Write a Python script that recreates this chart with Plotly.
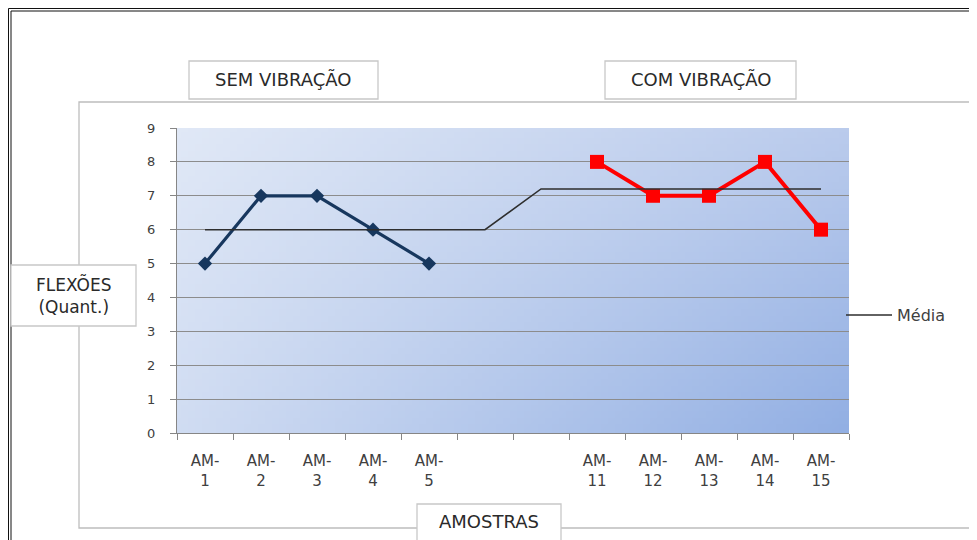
import base64
import struct
import zlib

import plotly.graph_objects as go

# ---------------- data ----------------
categories = ["AM-1", "AM-2", "AM-3", "AM-4", "AM-5", "", "",
              "AM-11", "AM-12", "AM-13", "AM-14", "AM-15"]
sem_categories = ["AM-1", "AM-2", "AM-3", "AM-4", "AM-5"]
sem_vibracao = [5, 7, 7, 6, 5]
com_categories = ["AM-11", "AM-12", "AM-13", "AM-14", "AM-15"]
com_vibracao = [8, 7, 7, 8, 6]
media = [6, 6, 6, 6, 6, 6, 7.2, 7.2, 7.2, 7.2, 7.2, 7.2]
y_ticks = [0, 1, 2, 3, 4, 5, 6, 7, 8, 9]

# ---------------- geometry helpers ----------------
W, H = 977, 540
OFF = 8  # the page body adds an 8px margin around the figure
PL, PR, PT, PB = 177, 849, 128, 433  # plot area in screen pixels


def xp(px):
    return (px - PL) / (PR - PL)


def yp(py):
    return (PB - py) / (PB - PT)


# ---------------- gradient background (PNG built in memory) ----------------
def gradient_png(w, h, tl, tr, bl, br):
    rows = []
    for j in range(h):
        v = j / (h - 1)
        row = bytearray([0])
        for i in range(w):
            u = i / (w - 1)
            for c in range(3):
                top = tl[c] * (1 - u) + tr[c] * u
                bot = bl[c] * (1 - u) + br[c] * u
                row.append(int(round(top * (1 - v) + bot * v)))
        rows.append(bytes(row))
    raw = b"".join(rows)

    def chunk(tag, data):
        return (struct.pack(">I", len(data)) + tag + data +
                struct.pack(">I", zlib.crc32(tag + data) & 0xFFFFFFFF))

    png = b"\x89PNG\r\n\x1a\n"
    png += chunk(b"IHDR", struct.pack(">IIBBBBB", w, h, 8, 2, 0, 0, 0))
    png += chunk(b"IDAT", zlib.compress(raw, 9))
    png += chunk(b"IEND", b"")
    return "data:image/png;base64," + base64.b64encode(png).decode()


bg_img = gradient_png(96, 48,
                      (224, 232, 246), (186, 203, 236),
                      (208, 220, 242), (146, 175, 227))

FONT = "DejaVu Sans"
x_pos = list(range(len(categories)))
idx = {c: i for i, c in enumerate(categories) if c}
tick_text = [c.replace("-", "-<br>") if c else "" for c in categories]

fig = go.Figure()

fig.add_trace(go.Scatter(
    x=[idx[c] for c in sem_categories], y=sem_vibracao, mode="lines+markers",
    name="SEM VIBRAÇÃO", showlegend=False,
    line=dict(color="#17375e", width=3.2),
    marker=dict(symbol="diamond", size=11, color="#17375e"),
))
fig.add_trace(go.Scatter(
    x=[idx[c] for c in com_categories], y=com_vibracao, mode="lines+markers",
    name="COM VIBRAÇÃO", showlegend=False,
    line=dict(color="#ff0000", width=4),
    marker=dict(symbol="square", size=14, color="#ff0000"),
))
fig.add_trace(go.Scatter(
    x=x_pos, y=media, mode="lines", name="Média",
    line=dict(color="#2e2e2e", width=1.5),
))

shapes = []
# outer page frame (double line)
shapes.append(dict(type="rect", xref="paper", yref="paper",
                   x0=xp(8.5), x1=xp(1010), y0=yp(600), y1=yp(8.5),
                   line=dict(color="#111111", width=1), layer="below"))
shapes.append(dict(type="rect", xref="paper", yref="paper",
                   x0=xp(11), x1=xp(1010), y0=yp(600), y1=yp(11),
                   line=dict(color="#111111", width=1), layer="below"))
# chart area frame
shapes.append(dict(type="rect", xref="paper", yref="paper",
                   x0=xp(79), x1=xp(971), y0=yp(528), y1=yp(102),
                   line=dict(color="#bdbdbd", width=1.3), layer="below"))
# text boxes
boxes = [(189, 378, 61, 99), (605, 796, 61, 99), (11, 136, 265, 326),
         (417, 561, 504, 560)]
for x0, x1, y0, y1 in boxes:
    shapes.append(dict(type="rect", xref="paper", yref="paper",
                       x0=xp(x0), x1=xp(x1), y0=yp(y1), y1=yp(y0),
                       line=dict(color="#c8c8c8", width=1.3),
                       fillcolor="white", layer="below"))

ann_font = dict(family=FONT, size=18, color="#2a2a2a")
annotations = [
    dict(text="SEM VIBRAÇÃO", x=xp(283.5), y=yp(80)),
    dict(text="COM VIBRAÇÃO", x=xp(700.5), y=yp(80)),
    dict(text="FLEXÕES<br>(Quant.)", x=xp(73.5), y=yp(295.5)),
    dict(text="AMOSTRAS", x=xp(489), y=yp(521)),
]
for a in annotations:
    a.update(xref="paper", yref="paper", showarrow=False,
             xanchor="center", yanchor="middle", font=ann_font)
annotations[2]["font"] = dict(family=FONT, size=17, color="#2a2a2a")

fig.update_layout(
    width=W, height=H,
    margin=dict(l=PL - OFF, r=W - (PR - OFF), t=PT - OFF, b=H - (PB - OFF),
                pad=0),
    paper_bgcolor="white",
    plot_bgcolor="rgba(0,0,0,0)",
    font=dict(family=FONT, color="#404040"),
    shapes=shapes,
    annotations=annotations,
    images=[dict(source=bg_img, xref="paper", yref="paper", x=0, y=1,
                 sizex=1, sizey=1, xanchor="left", yanchor="top",
                 sizing="stretch", layer="below")],
    showlegend=True,
    legend=dict(x=xp(841), y=yp(315), xanchor="left", yanchor="middle",
                bgcolor="rgba(0,0,0,0)", itemwidth=46,
                font=dict(family=FONT, size=16, color="#404040")),
    xaxis=dict(
        range=[-0.5, len(categories) - 0.5],
        tickmode="array", tickvals=x_pos, ticktext=tick_text,
        ticks="", showgrid=False, zeroline=False,
        showline=True, linecolor="#868686", linewidth=1.3,
        tickfont=dict(family=FONT, size=15, color="#404040"),
        ticklabelstandoff=14,
        minor=dict(tick0=-0.5, dtick=1, ticks="outside", ticklen=6,
                   tickcolor="#868686", tickwidth=1.3, showgrid=False),
    ),
    yaxis=dict(
        range=[0, 9], tickmode="array", tickvals=y_ticks,
        ticks="outside", ticklen=6, tickcolor="#868686", tickwidth=1.3,
        showgrid=True, gridcolor="#8c8c8c", gridwidth=1.2,
        zeroline=False, showline=True, linecolor="#868686", linewidth=1.3,
        tickfont=dict(family=FONT, size=13, color="#404040"),
        ticklabelstandoff=12,
    ),
)

fig.write_html("out.html")
